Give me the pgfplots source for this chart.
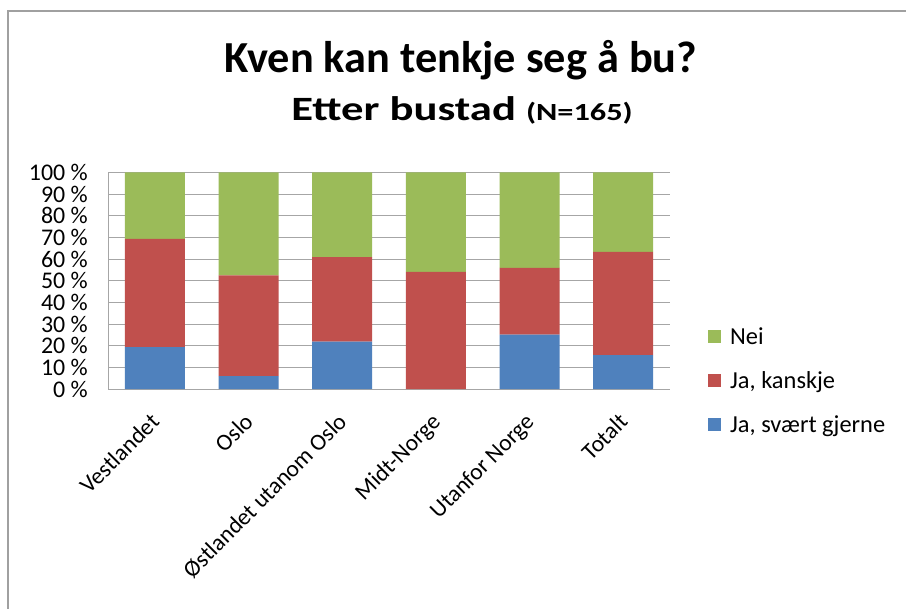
\documentclass[border=0pt]{standalone}
\usepackage{pgfplots}
\pgfplotsset{compat=1.18}
\usepackage{fontspec}
\setmainfont{Carlito}
\definecolor{cblue}{HTML}{4F81BD}
\definecolor{cred}{HTML}{C0504D}
\definecolor{cgreen}{HTML}{9BBB59}
\definecolor{cframe}{HTML}{A0A0A0}
\definecolor{cgrid}{HTML}{A6A6A6}
\begin{document}
\begin{tikzpicture}
\useasboundingbox (0bp,0bp) rectangle (906bp,609bp);
\fill[white] (0bp,0bp) rectangle (906bp,609bp);
\draw[cframe,line width=1.5bp] (8bp,-5bp) -- (8bp,598bp) -- (915bp,598bp);
\node[anchor=base, font=\fontsize{44.5}{48}\selectfont\bfseries, inner sep=0pt] at (461bp,536bp) {Kven kan tenkje seg å bu?};
\node[anchor=base, inner sep=0pt] at (462bp,488bp) {\scalebox{1.18}[0.9]{\fontsize{38}{42}\selectfont\bfseries Etter bustad {\fontsize{27.5}{30}\selectfont (N=165)}}};
\begin{axis}[
  at={(108bp,220bp)}, anchor=south west,
  scale only axis, width=562bp, height=216.5bp,
  ybar stacked, bar width=60bp,
  xmin=-0.5, xmax=5.5, ymin=0, ymax=100,
  xtick=data,
  xticklabels={Vestlandet,Oslo,Østlandet utanom Oslo,Midt-Norge,Utanfor Norge,Totalt},
  xticklabel style={rotate=45, anchor=north east, font=\fontsize{23.5}{26}\selectfont, inner sep=1bp, xshift=-19bp, yshift=-11bp},
  ytick={0,10,...,100},
  yticklabel={\pgfmathprintnumber[assume math mode=true]{\tick}~\%},
  yticklabel style={font=\fontsize{24}{24}\selectfont, inner sep=2bp, xshift=-18bp},
  ymajorgrids, grid style={cgrid, line width=0.8bp},
  major tick length=0pt,
  axis x line*=bottom, axis y line*=left,
  x axis line style={draw=none},
  y axis line style={cgrid, line width=0.8bp},
  axis line style={-},
  legend style={at={(1.0676,0.293)}, anchor=north west, draw=none, fill=none,
    font=\fontsize{24.5}{26}\selectfont, row sep=21.5bp, inner sep=0pt},
  legend cell align=left,
  reverse legend,
  legend image code/.code={\fill[#1] (0bp,-6.5bp) rectangle (13bp,6.5bp); \path (20bp,0bp);},
]
\addplot[fill=cblue, draw=none] coordinates {(0,19.3) (1,6.0) (2,21.9) (3,0) (4,25.1) (5,15.7)};
\addplot[fill=cred, draw=none] coordinates {(0,50.0) (1,46.5) (2,39.0) (3,54.1) (4,30.8) (5,47.6)};
\addplot[fill=cgreen, draw=none] coordinates {(0,30.7) (1,47.5) (2,39.1) (3,45.9) (4,44.1) (5,36.7)};
\legend{Ja{,} svært gjerne, Ja{,} kanskje, Nei}
\end{axis}
\end{tikzpicture}
\end{document}
